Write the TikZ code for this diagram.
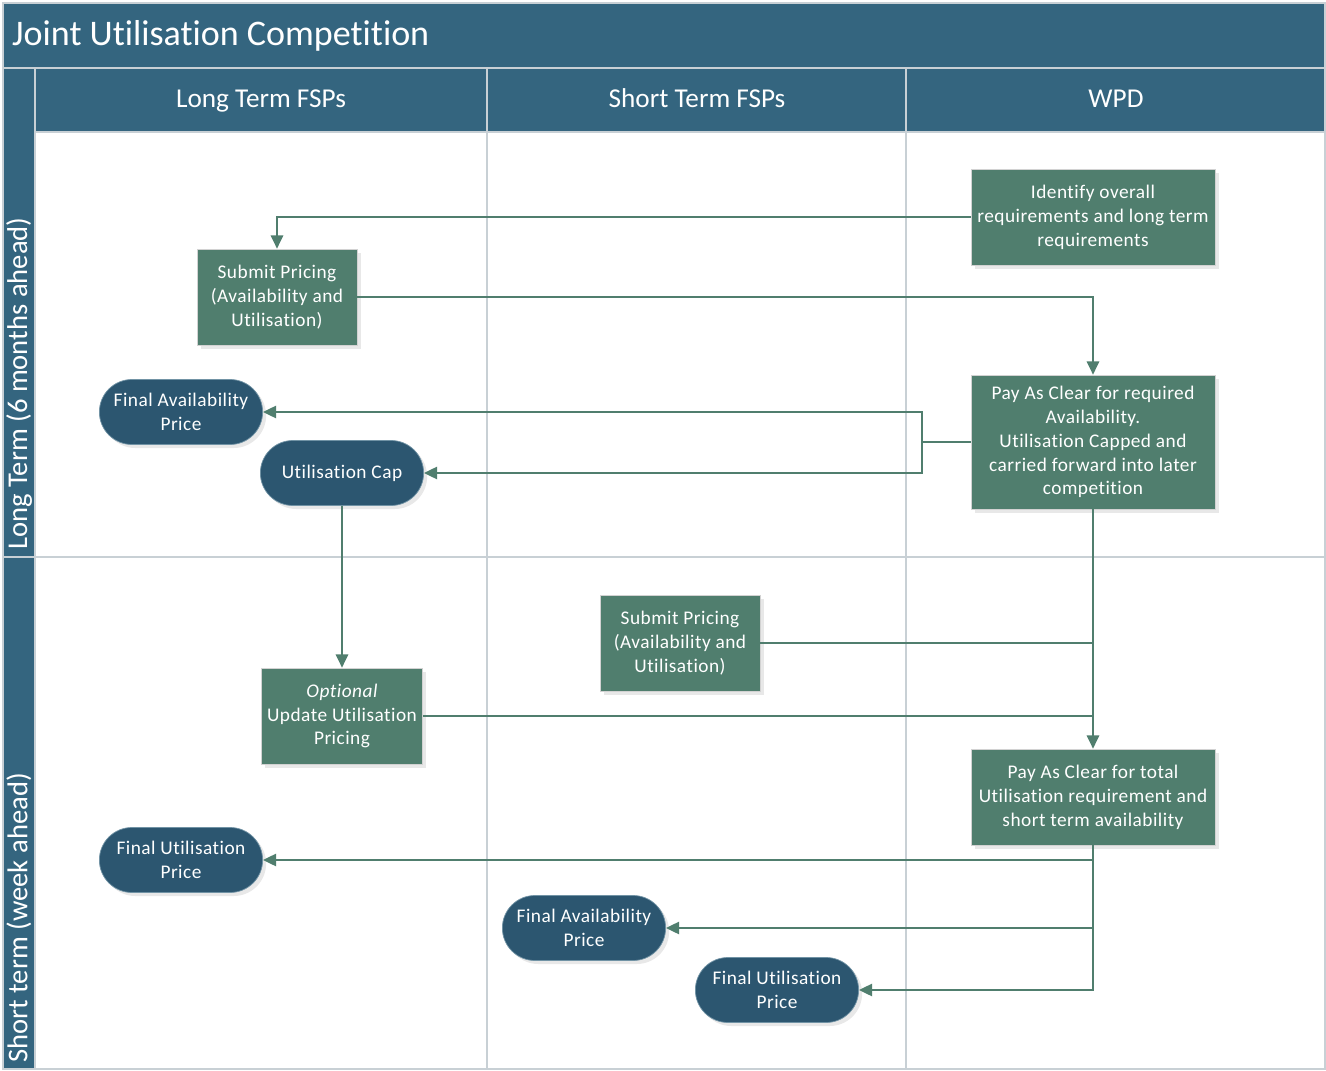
\documentclass[tikz,border=0pt]{standalone}
\usepackage{fontspec}
\setmainfont[Ligatures={NoCommon,NoContextual}]{Carlito}
\newfontfamily\boxfont[LetterSpace=2.5,Ligatures={NoCommon,NoContextual}]{Carlito}
\usetikzlibrary{shapes}
\usetikzlibrary{positioning}
\usetikzlibrary{arrows.meta}
\usetikzlibrary{shadows}
\definecolor{wpdblue}{HTML}{34657F}
\definecolor{wpdgreen}{HTML}{507E6E}
\definecolor{wpdnavy}{HTML}{2C5670}
\definecolor{lanegray}{HTML}{C8D0D5}
\tikzset{
    mynode/.style = {rectangle, draw=gray!35, fill=wpdgreen, text=white, align=center,
        font=\boxfont\fontsize{11}{13.6}\selectfont, minimum width=3.2cm, minimum height=1.92cm,
        drop shadow={opacity=0.18, shadow xshift=2pt, shadow yshift=-2pt}},
    mynodew/.style = {mynode, minimum width=4.88cm},
    mynoder/.style = {rounded rectangle, draw=wpdblue!70, fill=wpdnavy, text=white, align=center,
        font=\boxfont\fontsize{11}{13.6}\selectfont, minimum width=3.5cm, minimum height=1.3cm,
        drop shadow={opacity=0.18, shadow xshift=2pt, shadow yshift=-2pt}},
    edgen/.style = {-{Triangle[width=7pt,length=7.5pt]}, line width=1.1pt, draw=wpdgreen},
    edgep/.style = {line width=1.1pt, draw=wpdgreen},
    laneline/.style = {draw=lanegray, line width=0.8pt},
    headtext/.style = {text=white, font=\fontsize{15.5}{18}\selectfont}
}

\begin{document}
\begin{tikzpicture}[x=0.02cm, y=-0.02cm]
  \useasboundingbox (0,0) rectangle (1326,1071);

  % swimlane frame
  \fill[white] (3,3) rectangle (1325,1069);
  \fill[wpdblue] (3,3) rectangle (1325,68);
  \fill[wpdblue] (3,68) rectangle (35,1069);
  \fill[wpdblue] (35,68) rectangle (1325,132);
  \draw[laneline] (3,68) -- (1325,68);
  \draw[laneline] (35,68) -- (35,1069);
  \draw[laneline] (487,68) -- (487,1069);
  \draw[laneline] (906,68) -- (906,1069);
  \draw[laneline] (3,557) -- (1325,557);
  \draw[laneline] (35,132) -- (1325,132);
  \draw[draw=lanegray, line width=1.2pt] (3,3) rectangle (1325,1069);

  \node[headtext, anchor=base west, font=\fontsize{20.5}{24}\selectfont] (title) at (6,46) {Joint Utilisation Competition};
  \node[headtext, anchor=base] (hlong) at (261,108) {Long Term FSPs};
  \node[headtext, anchor=base] (hshort) at (697,108) {Short Term FSPs};
  \node[headtext, anchor=base] (hwpd) at (1116,108) {WPD};
  \node[headtext, rotate=90, anchor=west, font=\fontsize{16.3}{19}\selectfont] (lanelt) at (19,556) {Long Term (6 months ahead)};
  \node[headtext, rotate=90, anchor=west, font=\fontsize{16.3}{19}\selectfont] (lanest) at (19,1069) {Short term (week ahead)};

  % long term lane
  \node[mynodew] (ident) at (1093,217) {Identify overall\\requirements and long term\\requirements};
  \node[mynode] (sub1) at (277,297) {Submit Pricing\\(Availability and\\Utilisation)};
  \node[mynodew, minimum height=2.68cm] (pay1) at (1093,442) {Pay As Clear for required\\Availability.\\Utilisation Capped and\\carried forward into later\\competition};
  \node[mynoder] (fa1) at (181,412) {Final Availability\\Price};
  \node[mynoder] (ucap) at (342,473) {Utilisation Cap};

  % short term lane
  \node[mynode] (sub2) at (680,643) {Submit Pricing\\(Availability and\\Utilisation)};
  \node[mynode] (opt) at (342,716) {{\itshape Optional}\\Update Utilisation\\Pricing};
  \node[mynodew] (pay2) at (1093,797) {Pay As Clear for total\\Utilisation requirement and\\short term availability};
  \node[mynoder] (fu1) at (181,860) {Final Utilisation\\Price};
  \node[mynoder] (fa2) at (584,928) {Final Availability\\Price};
  \node[mynoder] (fu2) at (777,990) {Final Utilisation\\Price};

  \coordinate (split) at (922,442);

  \draw[edgen] (ident.west) -| (sub1.north);
  \draw[edgen] (sub1.east) -| (pay1.north);
  \draw[edgep] (pay1.west) -- (split);
  \draw[edgen] (split) |- (fa1.east);
  \draw[edgen] (split) |- (ucap.east);
  \draw[edgen] (ucap) -- (opt);
  \draw[edgen] (pay1) -- (pay2);
  \draw[edgep] (sub2.east) -- (sub2.east -| pay2.north);
  \draw[edgep] (opt.east) -- (opt.east -| pay2.north);
  \draw[edgen] (pay2.south) |- (fu1.east);
  \draw[edgen] (pay2.south) |- (fa2.east);
  \draw[edgen] (pay2.south) |- (fu2.east);

\end{tikzpicture}
\end{document}
